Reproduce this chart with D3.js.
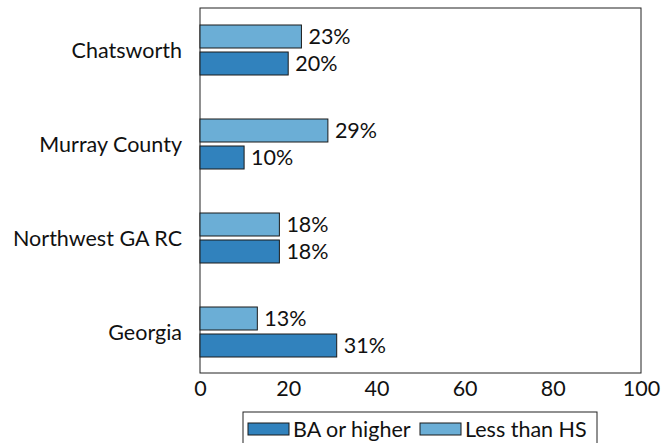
<!DOCTYPE html>
<html><head><meta charset="utf-8">
<script src="https://cdn.jsdelivr.net/npm/d3@7"></script>
<style>body{margin:0;background:#fff;} svg{display:block;} text{font-family:Lato, "Liberation Sans", sans-serif;fill:#111;}</style>
</head><body>
<svg id="c" width="672" height="443"></svg>
<script>
const categories = ["Chatsworth", "Murray County", "Northwest GA RC", "Georgia"];
const lessThanHS = [23, 29, 18, 13];
const baOrHigher = [20, 10, 18, 31];
const xTicks = [0, 20, 40, 60, 80, 100];
const seriesNames = ["BA or higher", "Less than HS"];
const colors = {"BA or higher": "#3182bd", "Less than HS": "#6baed6"};

const svg = d3.select("#c");
const L = 200, R = 641, T = 8, B = 373;
const x = d3.scaleLinear().domain([0, 100]).range([L, R]);
const y = d3.scalePoint().domain(categories).range([50, 332]);
const barH = 23, gap = 2;

svg.append("rect").attr("x", L).attr("y", T).attr("width", R - L).attr("height", B - T)
  .attr("fill", "none").attr("stroke", "#222").attr("stroke-width", 1);

const rows = categories.map((c, i) => ({c, less: lessThanHS[i], ba: baOrHigher[i]}));

svg.selectAll(".less").data(rows).enter().append("rect")
  .attr("x", x(0)).attr("y", d => y(d.c) - gap - barH)
  .attr("width", d => x(d.less) - x(0)).attr("height", barH)
  .attr("fill", colors["Less than HS"]).attr("stroke", "#1a1a1a").attr("stroke-width", 1);
svg.selectAll(".ba").data(rows).enter().append("rect")
  .attr("x", x(0)).attr("y", d => y(d.c) + gap)
  .attr("width", d => x(d.ba) - x(0)).attr("height", barH)
  .attr("fill", colors["BA or higher"]).attr("stroke", "#1a1a1a").attr("stroke-width", 1);

const fs = 21.5;
svg.selectAll(".lessLbl").data(rows).enter().append("text")
  .attr("x", d => x(d.less) + 7).attr("y", d => y(d.c) - gap - barH / 2)
  .attr("dy", "0.36em").attr("font-size", fs).text(d => d.less + "%");
svg.selectAll(".baLbl").data(rows).enter().append("text")
  .attr("x", d => x(d.ba) + 7).attr("y", d => y(d.c) + gap + barH / 2)
  .attr("dy", "0.36em").attr("font-size", fs).text(d => d.ba + "%");

svg.selectAll(".ylab").data(categories).enter().append("text")
  .attr("x", L - 18).attr("y", d => y(d)).attr("dy", "0.36em")
  .attr("text-anchor", "end").attr("font-size", fs).text(d => d);

const xa = svg.append("g").attr("transform", `translate(0,${B})`)
  .call(d3.axisBottom(x).tickValues(xTicks).tickSize(0).tickPadding(8));
xa.select(".domain").remove();
xa.selectAll("text").attr("font-size", fs).attr("font-family", "Lato, 'Liberation Sans', sans-serif").attr("fill", "#111");

const lg = svg.append("g");
lg.append("rect").attr("x", 243).attr("y", 412).attr("width", 354).attr("height", 40)
  .attr("fill", "#fff").attr("stroke", "#222").attr("stroke-width", 1);
const legX = [248, 420];
seriesNames.forEach((s, i) => {
  lg.append("rect").attr("x", legX[i]).attr("y", 423).attr("width", 41).attr("height", 12)
    .attr("fill", colors[s]).attr("stroke", "#1a1a1a").attr("stroke-width", 1);
  lg.append("text").attr("x", legX[i] + 45).attr("y", 429).attr("dy", "0.36em")
    .attr("font-size", fs).text(s);
});
</script>
</body></html>
